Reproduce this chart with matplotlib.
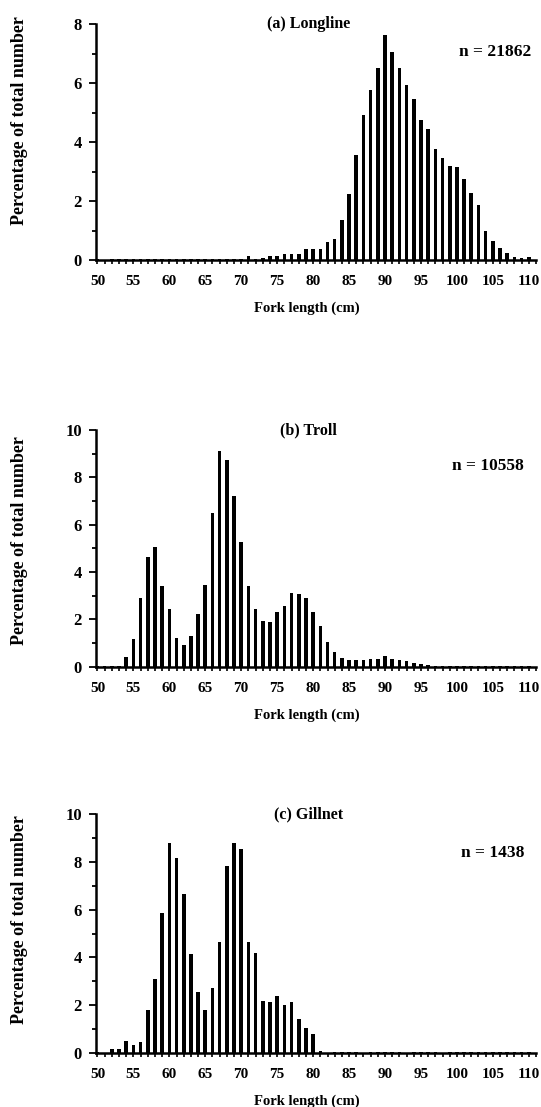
import numpy as np
import matplotlib.pyplot as plt
from matplotlib.ticker import MultipleLocator

plt.rcParams['font.family'] = ['Liberation Serif', 'DejaVu Serif']
plt.rcParams['font.weight'] = 'bold'

# fork length classes (cm)
lengths = np.arange(50, 111)

# percentage of total number
longline = [0.02, 0.0, 0.02, 0.03, 0.02, 0.03, 0.04, 0.02, 0.02, 0.03,
            0.04, 0.04, 0.03, 0.02, 0.03, 0.03, 0.02, 0.03, 0.02, 0.03,
            0.04, 0.13, 0.04, 0.06, 0.12, 0.15, 0.2, 0.2, 0.22, 0.37,
            0.37, 0.37, 0.62, 0.71, 1.34, 2.24, 3.55, 4.93, 5.76, 6.52,
            7.63, 7.04, 6.52, 5.93, 5.45, 4.74, 4.45, 3.77, 3.47, 3.17,
            3.15, 2.75, 2.27, 1.88, 0.97, 0.63, 0.41, 0.23, 0.11, 0.07,
            0.1]
troll = [0.02, 0.05, 0.02, 0.05, 0.39, 1.15, 2.89, 4.62, 5.07, 3.42,
         2.42, 1.23, 0.92, 1.30, 2.21, 3.45, 6.48, 9.11, 8.73, 7.23,
         5.28, 3.41, 2.42, 1.93, 1.90, 2.32, 2.58, 3.13, 3.07, 2.92,
         2.32, 1.73, 1.06, 0.63, 0.38, 0.30, 0.30, 0.30, 0.33, 0.33,
         0.45, 0.31, 0.28, 0.25, 0.14, 0.11, 0.06, 0.04, 0.05, 0.02,
         0.03, 0.01, 0.01, 0.02, 0.02, 0.01, 0.02, 0.03, 0.02, 0.04,
         0.02]
gillnet = [0.04, 0.0, 0.15, 0.15, 0.49, 0.32, 0.43, 1.79, 3.09, 5.85,
           8.78, 8.15, 6.64, 4.13, 2.53, 1.79, 2.70, 4.66, 7.83, 8.78,
           8.53, 4.63, 4.17, 2.18, 2.14, 2.39, 2.0, 2.14, 1.40, 1.05,
           0.78, 0.08, 0.0, 0.04, 0.02, 0.03, 0.02, 0.0, 0.03, 0.02,
           0.04, 0.02, 0.03, 0.0, 0.02, 0.03, 0.02, 0.03, 0.0, 0.02,
           0.03, 0.02, 0.03, 0.02, 0.03, 0.02, 0.03, 0.02, 0.04, 0.03,
           0.04]

titles = ['(a) Longline', '(b) Troll', '(c) Gillnet']
counts = ['n = 21862', 'n = 10558', 'n = 1438']
ymaxes = [8, 10, 10]

# axes rectangles in pixels: left, baseline y, top y (from top of image)
W, H = 541, 1107
boxes = [(96, 260, 24), (96, 666.7, 430), (96, 1052.7, 814.3)]
ncoords = [(0.99, 0.88), (0.973, 0.848), (0.973, 0.838)]
ylab_y = [0.59, 0.535, 0.56]

fig = plt.figure(figsize=(W / 100, H / 100), dpi=100)

for i, data in enumerate([longline, troll, gillnet]):
    left, base, top = boxes[i]
    ax = fig.add_axes([left / W, (H - base) / H, (536 - left) / W, (base - top) / H])
    ax.bar(lengths, data, width=0.5, color='black')

    ax.set_xlim(49.8, 111.0)
    ax.set_ylim(0, ymaxes[i])
    ax.xaxis.set_major_locator(MultipleLocator(5))
    ax.xaxis.set_minor_locator(MultipleLocator(1))
    ax.yaxis.set_major_locator(MultipleLocator(2))
    ax.yaxis.set_minor_locator(MultipleLocator(1))

    for s in ['top', 'right']:
        ax.spines[s].set_visible(False)
    for s in ['left', 'bottom']:
        ax.spines[s].set_linewidth(1.8)

    ax.tick_params(axis='y', which='major', direction='out', length=5, width=1.3,
                   labelsize=12, pad=5)
    ax.tick_params(axis='y', which='minor', direction='out', length=3, width=1.3)
    ax.tick_params(axis='x', which='both', direction='out', length=3, width=1.2,
                   labelsize=11, pad=8)

    ax.text(0.483, 1.0, titles[i], transform=ax.transAxes, ha='center', va='center',
            fontsize=11.5, fontweight='bold')
    ax.text(ncoords[i][0], ncoords[i][1], counts[i], transform=ax.transAxes,
            ha='right', va='center', fontsize=12.5, fontweight='bold')

    ax.set_xlabel('Fork length (cm)', fontsize=10.5, fontweight='bold')
    ax.xaxis.set_label_coords(0.48, -0.175)
    ax.set_ylabel('Percentage of total number', fontsize=13, fontweight='bold')
    ax.yaxis.set_label_coords(-0.155, ylab_y[i])

fig.savefig('out.png', dpi=100)
